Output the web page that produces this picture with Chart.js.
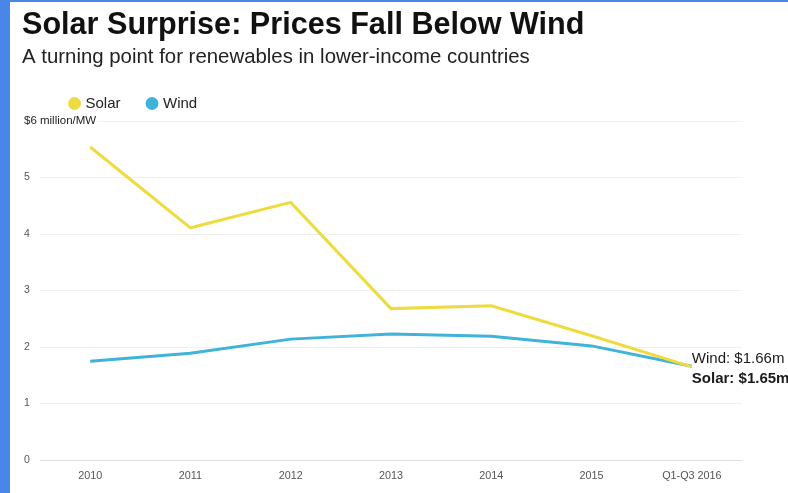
<!DOCTYPE html>
<html>
<head>
<meta charset="utf-8">
<script src="https://cdn.jsdelivr.net/npm/chart.js@4.4.1/dist/chart.umd.min.js"></script>
<style>
    html, body { margin: 0; padding: 0; background: #fff; }
    #wrap { width: 778px; height: 491px; border-left: 10px solid #4a86e8; border-top: 2px solid #4a86e8; }
    canvas { display: block; }
</style>
</head>
<body>
<div id="wrap"><canvas id="chart" width="778" height="491"></canvas></div>
<script>
    'use strict';

    const FONT = '"Liberation Sans", Arial, Helvetica, sans-serif';

    // data ($ million per MW)
    const years = ['2010', '2011', '2012', '2013', '2014', '2015', 'Q1-Q3 2016'];
    const solar = [5.54, 4.11, 4.56, 2.68, 2.73, 2.2, 1.65];
    const wind = [1.75, 1.89, 2.14, 2.23, 2.19, 2.02, 1.66];
    const endLabels = ['Solar: $1.65m', 'Wind: $1.66m'];

    const SOLAR_COLOR = '#eedb3f';
    const WIND_COLOR = '#40b3d8';

    // legend sits a bit right of the title in the original
    const legendShift = {
        id: 'legendShift',
        afterLayout(chart) {
            chart.legend.left += 21;
            chart.legend.right += 21;
        }
    };

    // "Wind: $1.66m" / "Solar: $1.65m" next to the last points
    const endLabelPlugin = {
        id: 'endLabels',
        afterDatasetsDraw(chart) {
            const ctx = chart.ctx;
            const solarPt = chart.getDatasetMeta(0).data[solar.length - 1];
            const windPt = chart.getDatasetMeta(1).data[wind.length - 1];
            ctx.save();
            ctx.fillStyle = '#1a1a1a';
            ctx.textAlign = 'left';
            ctx.textBaseline = 'middle';
            ctx.font = '15px ' + FONT;
            ctx.fillText(endLabels[1], windPt.x, windPt.y - 7);
            ctx.font = 'bold 15px ' + FONT;
            ctx.fillText(endLabels[0], solarPt.x, solarPt.y + 12);
            ctx.restore();
        }
    };

    new Chart(document.getElementById('chart'), {
        type: 'line',
        data: {
            labels: years,
            datasets: [
                {
                    label: 'Solar',
                    data: solar,
                    borderColor: SOLAR_COLOR,
                    backgroundColor: SOLAR_COLOR,
                    borderWidth: 3,
                    pointRadius: 0,
                    tension: 0
                },
                {
                    label: 'Wind',
                    data: wind,
                    borderColor: WIND_COLOR,
                    backgroundColor: WIND_COLOR,
                    borderWidth: 3,
                    pointRadius: 0,
                    tension: 0
                }
            ]
        },
        options: {
            responsive: false,
            animation: false,
            layout: { padding: { left: 12, right: 46, top: 0, bottom: 0 } },
            plugins: {
                title: {
                    display: true,
                    text: 'Solar Surprise: Prices Fall Below Wind',
                    align: 'start',
                    color: '#111',
                    font: { family: FONT, size: 30.6, weight: 'bold', lineHeight: 1 },
                    padding: { top: 8, bottom: 6 }
                },
                subtitle: {
                    display: true,
                    text: 'A turning point for renewables in lower-income countries',
                    align: 'start',
                    color: '#222',
                    font: { family: FONT, size: 20.4, lineHeight: 1.05 },
                    padding: { top: 0, bottom: 0 }
                },
                legend: {
                    display: true,
                    align: 'start',
                    labels: {
                        usePointStyle: true,
                        pointStyle: 'circle',
                        boxHeight: 7,
                        boxWidth: 7,
                        padding: 28,
                        color: '#222',
                        font: { family: FONT, size: 15 }
                    }
                },
                tooltip: { enabled: false }
            },
            scales: {
                x: {
                    offset: true,
                    grid: { display: false, drawTicks: false },
                    border: { display: false },
                    ticks: {
                        color: '#555',
                        padding: 10,
                        maxRotation: 0,
                        font: { family: FONT, size: 10.8 }
                    }
                },
                y: {
                    min: 0,
                    max: 6,
                    border: { display: false },
                    grid: {
                        drawTicks: false,
                        color: (c) => c.tick && c.tick.value === 0 ? '#dddddd' : '#efefef'
                    },
                    afterFit(scale) {
                        scale.width = 18;
                    },
                    ticks: {
                        stepSize: 1,
                        mirror: true,
                        padding: -16,
                        color: (c) => c.tick && c.tick.value === 6 ? '#222' : '#555',
                        font: (c) => ({ family: FONT, size: c.tick && c.tick.value === 6 ? 11.5 : 10.5 }),
                        showLabelBackdrop: (c) => c.tick && c.tick.value === 6,
                        backdropColor: '#fff',
                        backdropPadding: 2,
                        callback: (v) => v === 6 ? '$6 million/MW' : v
                    }
                }
            }
        },
        plugins: [legendShift, endLabelPlugin]
    });
</script>
</body>
</html>
